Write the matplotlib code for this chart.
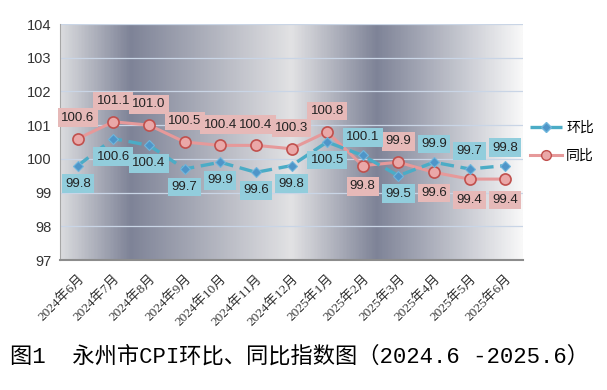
import numpy as np
import matplotlib
matplotlib.use("Agg")
import matplotlib.pyplot as plt
from matplotlib.colors import LinearSegmentedColormap
from matplotlib.lines import Line2D

plt.rcParams['font.family'] = ['Liberation Sans', 'Noto Sans CJK SC']

months = ["2024年6月", "2024年7月", "2024年8月", "2024年9月", "2024年10月",
          "2024年11月", "2024年12月", "2025年1月", "2025年2月", "2025年3月",
          "2025年4月", "2025年5月", "2025年6月"]
mom = [99.8, 100.6, 100.4, 99.7, 99.9, 99.6, 99.8, 100.5, 100.1, 99.5, 99.9, 99.7, 99.8]
yoy = [100.6, 101.1, 101.0, 100.5, 100.4, 100.4, 100.3, 100.8, 99.8, 99.9, 99.6, 99.4, 99.4]
# label side: 1 above, -1 below
mom_side = [-1, -1, -1, -1, -1, -1, -1, -1, 1, -1, 1, 1, 1]
yoy_side = [1, 1, 1, 1, 1, 1, 1, 1, -1, 1, -1, -1, -1]

blue = "#4bacc6"
blue_mk = "#4f95c8"
blue_box = "#92cddc"
red = "#e6999a"
red_edge = "#c0504d"
red_box = "#e6b9b8"

fig = plt.figure(figsize=(6.07, 3.90), dpi=100)
ax = fig.add_axes([60 / 607, 1 - 260 / 390, 463 / 607, 236 / 390])

x = np.arange(len(months))
ax.set_xlim(-0.5, len(months) - 0.5)
ax.set_ylim(97, 104)

# gradient background
cmap = LinearSegmentedColormap.from_list("bg", [
    (0.0, "#dadbde"), (0.15, "#7e8397"), (0.50, "#e2e2e4"),
    (0.685, "#7e8397"), (1.0, "#f8f8f8")])
grad = np.linspace(0, 1, 400).reshape(1, -1)
ax.imshow(grad, aspect="auto", cmap=cmap, extent=(-0.5, len(months) - 0.5, 97, 104),
          zorder=0, interpolation="bilinear")

for yv in range(98, 105):
    ax.axhline(yv, color="#c9d5e6", lw=0.9, zorder=1)

ax.plot(x, yoy, color=red, lw=2.2, marker="o", ms=8, mfc="#eaa8a8",
        mec=red_edge, mew=1.2, zorder=3)
ax.plot(x, mom, color=blue, lw=2.4, ls=(0, (4, 2)), marker="D", ms=5.5,
        mfc=blue_mk, mec="#6fb6dc", mew=0.8, zorder=4)

for xi, v, s in zip(x, yoy, yoy_side):
    ax.annotate(f"{v:.1f}", (xi, v), xytext=(0, 15 * s), textcoords="offset points",
                ha="center", va="center", fontsize=9.5, color="#222222", zorder=6,
                bbox=dict(boxstyle="square,pad=0.25", fc=red_box, ec="none"))
for xi, v, s in zip(x, mom, mom_side):
    ax.annotate(f"{v:.1f}", (xi, v), xytext=(0, 13 * s), textcoords="offset points",
                ha="center", va="center", fontsize=9.5, color="#222222", zorder=6,
                bbox=dict(boxstyle="square,pad=0.25", fc=blue_box, ec="none"))

ax.set_yticks(range(97, 105))
ax.set_yticklabels([str(v) for v in range(97, 105)], fontsize=10.5, color="#333333")
ax.set_xticks(x)
ax.set_xticklabels(months, rotation=45, ha="right", rotation_mode="anchor",
                   fontsize=9.5, color="#333333",
                   family=["Liberation Serif", "Noto Sans CJK SC"])
ax.tick_params(axis="y", length=0, pad=6)
ax.tick_params(axis="x", length=0, pad=9)
for side in ["top", "right"]:
    ax.spines[side].set_visible(False)
ax.spines["left"].set_color("#a6a6a6")
ax.spines["bottom"].set_color("#8c8c8c")
ax.spines["bottom"].set_linewidth(1.5)

handles = [
    Line2D([], [], color=blue, lw=2.4, ls=(0, (4, 2)), marker="D", ms=5,
           mfc=blue_mk, mec="#6fb6dc"),
    Line2D([], [], color=red, lw=2.2, marker="o", ms=7, mfc="#eaa8a8", mec=red_edge),
]
fig.legend(handles, ["环比", "同比"], loc="center left",
           bbox_to_anchor=(530 / 607, 1 - 142 / 390), frameon=False,
           handlelength=2.3, handletextpad=0.3, labelspacing=1.0,
           borderpad=0, borderaxespad=0,
           prop={"family": ["Noto Sans CJK SC"], "size": 10})

fig.text(10 / 607, 1 - 357 / 390, "图1  永州市CPI环比、同比指数图（2024.6 -2025.6）",
         fontsize=16, va="center", ha="left", color="#000000",
         family=["Liberation Mono", "Noto Sans CJK SC"])

fig.savefig("out.png", dpi=100)
